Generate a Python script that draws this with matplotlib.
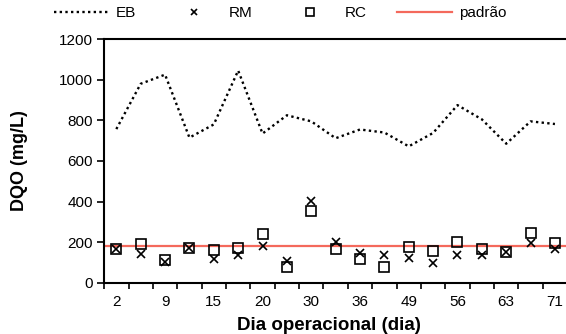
import numpy as np
import matplotlib.pyplot as plt

# dados (DQO, mg/L)
dias = ['2', '5', '9', '12', '15', '17', '20', '23', '30', '33',
        '36', '43', '49', '52', '56', '59', '63', '67', '71']
eb = [757, 980, 1025, 715, 780, 1045, 735, 825, 795, 712,
      755, 740, 672, 738, 875, 805, 685, 795, 782]
rm = [165, 144, 102, 174, 116, 137, 182, 107, 402, 203,
      149, 136, 124, 99, 136, 136, 154, 198, 165]
rc = [165, 193, 111, 174, 160, 174, 243, 79, 355, 165,
      116, 79, 177, 157, 202, 165, 154, 248, 197]
padrao = 180

plt.rcParams['font.family'] = ['Liberation Sans', 'DejaVu Sans']

fig = plt.figure(figsize=(5.66, 3.34), dpi=100)
ax = fig.add_axes([0.184, 0.153, 0.818, 0.73])

x = np.arange(len(dias))
l_eb, = ax.plot(x, eb, color='black', lw=1.7, linestyle=(0, (1, 1.4)), label='EB')
l_rm, = ax.plot(x, rm, linestyle='none', marker='x', ms=6, mew=1.2,
                color='black', label='RM')
l_rc, = ax.plot(x, rc, linestyle='none', marker='s', ms=7, mew=1.2,
                mfc='none', mec='black', label='RC')
l_pd = ax.axhline(padrao, color='#f4695c', lw=1.6, label='padrão', zorder=1)

ax.set_xlim(-0.5, len(dias) - 0.5)
ax.set_ylim(0, 1200)
ax.set_yticks(range(0, 1201, 200))

# ticks nas divisões entre categorias, rótulos a cada 2 dias
ax.set_xticks(np.arange(-0.5, len(dias), 1))
ax.set_xticklabels([])
ax.set_xticks(x[::2], dias[::2], minor=True)
ax.tick_params(axis='x', which='minor', length=0, pad=9, labelsize=11)
ax.tick_params(axis='x', which='major', length=4, width=1.2, direction='out')
ax.tick_params(axis='y', length=5, width=1.2, labelsize=11, pad=3)

for s in ['left', 'bottom', 'top']:
    ax.spines[s].set_linewidth(1.5)
ax.spines['right'].set_visible(False)

ax.set_xlabel('Dia operacional (dia)', fontsize=13.5, fontweight='bold')
ax.set_ylabel('DQO (mg/L)', fontsize=13, fontweight='bold')
ax.xaxis.set_label_coords(0.485, -0.14)
ax.yaxis.set_label_coords(-0.165, 0.5)

fig.legend(handles=[l_eb, l_rm, l_rc, l_pd], loc='center', ncol=4,
           bbox_to_anchor=(0.495, 0.961), frameon=False, fontsize=11,
           handlelength=3.6, columnspacing=1.95, handletextpad=0.5,
           markerscale=0.75)

plt.savefig('out.png', dpi=100)
